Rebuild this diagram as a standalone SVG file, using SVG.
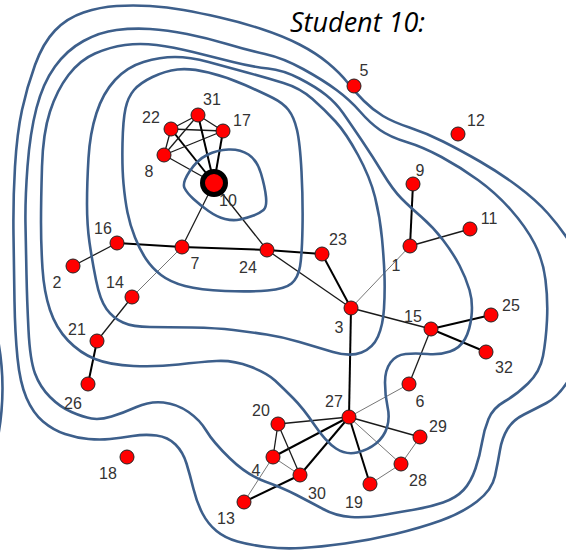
<svg xmlns="http://www.w3.org/2000/svg" width="566" height="550" viewBox="0 0 566 550">
<style>
.c{fill:none;stroke:#3d5f8b;stroke-width:2.6;stroke-linejoin:round}
.t{stroke:#666;stroke-width:0.9}
.m{stroke:#1a1a1a;stroke-width:1.3}
.k{stroke:#000;stroke-width:2}
.n{fill:#ff0000;stroke:#222;stroke-width:1}
.l{font-family:"Liberation Sans",Arial,sans-serif;font-size:16px;fill:#333;text-anchor:middle}
</style>
<rect width="566" height="550" fill="#fff"/>
<g id="edges">
<line class="m" x1="171" y1="129" x2="198" y2="115"/>
<line class="m" x1="171" y1="129" x2="223" y2="131"/>
<line class="m" x1="171" y1="129" x2="164" y2="155"/>
<line class="k" x1="171" y1="129" x2="214" y2="183"/>
<line class="m" x1="198" y1="115" x2="223" y2="131"/>
<line class="m" x1="198" y1="115" x2="164" y2="155"/>
<line class="k" x1="198" y1="115" x2="214" y2="183"/>
<line class="m" x1="223" y1="131" x2="164" y2="155"/>
<line class="k" x1="223" y1="131" x2="214" y2="183"/>
<line class="m" x1="164" y1="155" x2="214" y2="183"/>
<line class="m" x1="214" y1="183" x2="182" y2="247"/>
<line class="m" x1="214" y1="183" x2="267" y2="250"/>
<line class="k" x1="117" y1="243" x2="182" y2="247"/>
<line class="m" x1="117" y1="243" x2="73" y2="266"/>
<line class="k" x1="182" y1="247" x2="267" y2="250"/>
<line class="t" x1="182" y1="247" x2="132" y2="297"/>
<line class="m" x1="132" y1="297" x2="97" y2="341"/>
<line class="k" x1="97" y1="341" x2="88" y2="384"/>
<line class="k" x1="267" y1="250" x2="322" y2="254"/>
<line class="m" x1="267" y1="250" x2="351" y2="308"/>
<line class="k" x1="322" y1="254" x2="351" y2="308"/>
<line class="t" x1="351" y1="308" x2="410" y2="246"/>
<line class="k" x1="410" y1="246" x2="413" y2="184"/>
<line class="m" x1="410" y1="246" x2="470" y2="229"/>
<line class="m" x1="351" y1="308" x2="431" y2="329"/>
<line class="k" x1="351" y1="308" x2="349" y2="417"/>
<line class="k" x1="431" y1="329" x2="491" y2="315"/>
<line class="k" x1="431" y1="329" x2="486" y2="352"/>
<line class="m" x1="431" y1="329" x2="409" y2="384"/>
<line class="t" x1="409" y1="384" x2="349" y2="417"/>
<line class="m" x1="349" y1="417" x2="278" y2="424"/>
<line class="k" x1="349" y1="417" x2="273" y2="457"/>
<line class="k" x1="349" y1="417" x2="300" y2="475"/>
<line class="k" x1="349" y1="417" x2="370" y2="484"/>
<line class="t" x1="349" y1="417" x2="401" y2="464"/>
<line class="m" x1="349" y1="417" x2="420" y2="437"/>
<line class="m" x1="278" y1="424" x2="273" y2="457"/>
<line class="m" x1="278" y1="424" x2="300" y2="475"/>
<line class="t" x1="273" y1="457" x2="300" y2="475"/>
<line class="t" x1="273" y1="457" x2="244" y2="502"/>
<line class="k" x1="300" y1="475" x2="244" y2="502"/>
<line class="t" x1="370" y1="484" x2="401" y2="464"/>
<line class="t" x1="401" y1="464" x2="420" y2="437"/>
</g>
<g id="contours">
<path class="c" d="M184.5,188 Q182,183 189.5,171.5 Q197,160 207,155 Q217,150 228.5,149.5 Q240,149 248.5,154.5 Q257,160 261,173.5 Q265,187 266,197 Q267,207 263.5,210 Q260,213 253.5,215.5 Q247,218 240,219.5 Q233,221 225,219 Q217,217 208.5,211 Q200,205 193.5,199 Q187,193 184.5,188 Z"/>
<path class="c" d="M122.5,143.5 Q123,120 125.5,108.5 Q128,97 134,90 Q140,83 152.5,77 Q165,71 177.5,69.5 Q190,68 208.5,72.5 Q227,77 245,85 Q263,93 273,98 Q283,103 288.5,110 Q294,117 297,130 Q300,143 301.5,171.5 Q303,200 302.5,227.5 Q302,255 300,266.5 Q298,278 291.5,283.5 Q285,289 267.5,290.5 Q250,292 225,291 Q200,290 185,286 Q170,282 161,275 Q152,268 146,259 Q140,250 135,237.5 Q130,225 127.5,212.5 Q125,200 123.5,183.5 Q122,167 122.5,143.5 Z"/>
<path class="c" d="M88.5,158 Q90,133 96.5,113 Q103,93 115,80 Q127,67 143.5,62 Q160,57 175,57 Q190,57 208.5,62 Q227,67 247,72.5 Q267,78 283.5,83 Q300,88 312.5,99 Q325,110 335.5,121.5 Q346,133 358,155 Q370,177 375,197 Q380,217 382,238.5 Q384,260 384.5,276 Q385,292 384,308.5 Q383,325 378,336.5 Q373,348 361.5,352.5 Q350,357 333,352 Q316,347 299.5,342 Q283,337 266.5,334.5 Q250,332 233.5,330 Q217,328 192,327.5 Q167,327 150,327 Q133,327 123,322.5 Q113,318 106.5,309 Q100,300 96,280 Q92,260 89.5,242.5 Q87,225 87,204 Q87,183 88.5,158 Z"/>
<path class="c" d="M42,166.5 Q43,133 50,111.5 Q57,90 68.5,75 Q80,60 95,53.5 Q110,47 125,45 Q140,43 156.5,45 Q173,47 193,52 Q213,57 233,62 Q253,67 268,68.5 Q283,70 299.5,78.5 Q316,87 326,95 Q336,103 343,113 Q350,123 361.5,140 Q373,157 383,173.5 Q393,190 401.5,198.5 Q410,207 421.5,217 Q433,227 443,240 Q453,253 459.5,265.5 Q466,278 469.5,290 Q473,302 471.5,316 Q470,330 465,339 Q460,348 450,351.5 Q440,355 427.5,354 Q415,353 405.5,354 Q396,355 390.5,362.5 Q385,370 385,382.5 Q385,395 387.5,406.5 Q390,418 387,427.5 Q384,437 376,443.5 Q368,450 357,452.5 Q346,455 336,448.5 Q326,442 314.5,425 Q303,408 293,398 Q283,388 275,380.5 Q267,373 250,366.5 Q233,360 216.5,361 Q200,362 178.5,364.5 Q157,367 133.5,366 Q110,365 95,359 Q80,353 68,340.5 Q56,328 50,310 Q44,292 42.5,268.5 Q41,245 41,222.5 Q41,200 42,166.5 Z"/>
<path class="c" d="M27.5,166.5 Q30,133 36.5,108 Q43,83 55,66.5 Q67,50 83.5,41 Q100,32 116.5,30 Q133,28 150,29 Q167,30 187,34 Q207,38 227,44 Q247,50 265,54 Q283,58 303,69 Q323,80 336.5,90 Q350,100 360,111.5 Q370,123 380,130 Q390,137 406.5,142 Q423,147 441.5,157 Q460,167 478,180 Q496,193 511,210 Q526,227 534.5,243.5 Q543,260 545.5,280 Q548,300 547,320 Q546,340 543,356 Q540,372 528,383.5 Q516,395 504.5,401.5 Q493,408 488.5,419 Q484,430 482,442.5 Q480,455 475.5,468.5 Q471,482 463.5,490 Q456,498 443,502.5 Q430,507 415,509.5 Q400,512 383,515 Q366,518 351,517 Q336,516 323,509 Q310,502 296.5,495 Q283,488 265,481.5 Q247,475 230,458.5 Q213,442 206.5,431 Q200,420 188.5,412 Q177,404 163.5,402.5 Q150,401 136.5,407 Q123,413 111.5,416.5 Q100,420 91.5,418.5 Q83,417 71.5,412 Q60,407 50,397 Q40,387 35,373.5 Q30,360 28.5,330 Q27,300 26.5,275 Q26,250 25.5,225 Q25,200 27.5,166.5 Z"/>
<path class="c" d="M15,166.5 Q17,133 22,110 Q27,87 35,65 Q43,43 55,30.5 Q67,18 83.5,12.5 Q100,7 116.5,6 Q133,5 150,6 Q167,7 183.5,10 Q200,13 220,17.5 Q240,22 261.5,29 Q283,36 299.5,44.5 Q316,53 328,63 Q340,73 347.5,82.5 Q355,92 364,101 Q373,110 383,116 Q393,122 409.5,127.5 Q426,133 443,141.5 Q460,150 480,161.5 Q500,173 518,186.5 Q536,200 548,213.5 Q560,227 569,241 Q578,255 582,282.5 Q586,310 582,337.5 Q578,365 568,381 Q558,397 546.5,403 Q535,409 524,414.5 Q513,420 507.5,429 Q502,438 500,450 Q498,462 495,476 Q492,490 477,501.5 Q462,513 441,520.5 Q420,528 395,534 Q370,540 345,543.5 Q320,547 301.5,548 Q283,549 266.5,547 Q250,545 237.5,541.5 Q225,538 216.5,531 Q208,524 202.5,513.5 Q197,503 193.5,489 Q190,475 186.5,463.5 Q183,452 175.5,444.5 Q168,437 156.5,435.5 Q145,434 132.5,436 Q120,438 110,439 Q100,440 88.5,439 Q77,438 65,434 Q53,430 43,421.5 Q33,413 26.5,398 Q20,383 17.5,358 Q15,333 14.5,301.5 Q14,270 13.5,235 Q13,200 15,166.5 Z"/>
<path class="c" d="M-3,335 Q8,388 -3,442"/>
</g>
<g id="node-1"><circle class="n" cx="410" cy="246" r="7"/><text class="l" x="396" y="271">1</text></g>
<g id="node-2"><circle class="n" cx="73" cy="266" r="7"/><text class="l" x="57" y="288">2</text></g>
<g id="node-3"><circle class="n" cx="351" cy="308" r="7"/><text class="l" x="339" y="333">3</text></g>
<g id="node-4"><circle class="n" cx="273" cy="457" r="7"/><text class="l" x="256" y="476">4</text></g>
<g id="node-5"><circle class="n" cx="354" cy="86" r="7"/><text class="l" x="364" y="76">5</text></g>
<g id="node-6"><circle class="n" cx="409" cy="384" r="7"/><text class="l" x="420" y="407">6</text></g>
<g id="node-7"><circle class="n" cx="182" cy="247" r="7"/><text class="l" x="195" y="269">7</text></g>
<g id="node-8"><circle class="n" cx="164" cy="155" r="7"/><text class="l" x="149" y="177">8</text></g>
<g id="node-9"><circle class="n" cx="413" cy="184" r="7"/><text class="l" x="420" y="176">9</text></g>
<g id="node-11"><circle class="n" cx="470" cy="229" r="7"/><text class="l" x="489" y="224">11</text></g>
<g id="node-12"><circle class="n" cx="458" cy="134" r="7"/><text class="l" x="476" y="126">12</text></g>
<g id="node-13"><circle class="n" cx="244" cy="502" r="7"/><text class="l" x="226" y="524">13</text></g>
<g id="node-14"><circle class="n" cx="132" cy="297" r="7"/><text class="l" x="115" y="288">14</text></g>
<g id="node-15"><circle class="n" cx="431" cy="329" r="7"/><text class="l" x="413" y="322">15</text></g>
<g id="node-16"><circle class="n" cx="117" cy="243" r="7"/><text class="l" x="103" y="234">16</text></g>
<g id="node-17"><circle class="n" cx="223" cy="131" r="7"/><text class="l" x="242" y="126">17</text></g>
<g id="node-18"><circle class="n" cx="127" cy="457" r="7"/><text class="l" x="108" y="479">18</text></g>
<g id="node-19"><circle class="n" cx="370" cy="484" r="7"/><text class="l" x="354" y="508">19</text></g>
<g id="node-20"><circle class="n" cx="278" cy="424" r="7"/><text class="l" x="261" y="416">20</text></g>
<g id="node-21"><circle class="n" cx="97" cy="341" r="7"/><text class="l" x="77" y="335">21</text></g>
<g id="node-22"><circle class="n" cx="171" cy="129" r="7"/><text class="l" x="151" y="123">22</text></g>
<g id="node-23"><circle class="n" cx="322" cy="254" r="7"/><text class="l" x="338" y="245">23</text></g>
<g id="node-24"><circle class="n" cx="267" cy="250" r="7"/><text class="l" x="248" y="273">24</text></g>
<g id="node-25"><circle class="n" cx="491" cy="315" r="7"/><text class="l" x="511" y="311">25</text></g>
<g id="node-26"><circle class="n" cx="88" cy="384" r="7"/><text class="l" x="73" y="409">26</text></g>
<g id="node-27"><circle class="n" cx="349" cy="417" r="7"/><text class="l" x="334" y="407">27</text></g>
<g id="node-28"><circle class="n" cx="401" cy="464" r="7"/><text class="l" x="418" y="486">28</text></g>
<g id="node-29"><circle class="n" cx="420" cy="437" r="7"/><text class="l" x="438" y="432">29</text></g>
<g id="node-30"><circle class="n" cx="300" cy="475" r="7"/><text class="l" x="317" y="499">30</text></g>
<g id="node-31"><circle class="n" cx="198" cy="115" r="7"/><text class="l" x="212" y="105">31</text></g>
<g id="node-32"><circle class="n" cx="486" cy="352" r="7"/><text class="l" x="504" y="373">32</text></g>
<g id="node-10"><circle cx="214" cy="183" r="11.5" fill="#ff0000" stroke="#000" stroke-width="5"/><text class="l" x="228" y="206">10</text></g>
<text x="290" y="32" font-family="'Open Sans',sans-serif" font-style="italic" font-size="27" fill="#000">Student 10:</text>
</svg>
